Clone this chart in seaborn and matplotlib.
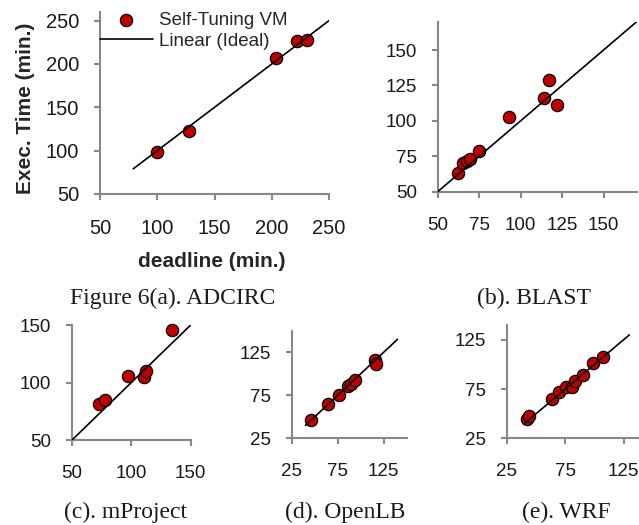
import matplotlib
matplotlib.use("Agg")
import matplotlib.pyplot as plt
import seaborn as sns
import pandas as pd

adcirc_deadline = [100, 128, 204, 222, 231]
adcirc_exec = [99, 123, 207, 227, 228]

blast_deadline = [62, 65, 67.5, 69.5, 75, 93, 114, 117, 122]
blast_exec = [63, 70, 72, 73, 79, 103, 116, 129, 111.5]

mproject_deadline = [73, 77.5, 97, 111, 112, 134]
mproject_exec = [81.5, 84.5, 106, 105, 110, 145.5]

openlb_deadline = [45.5, 64.7, 76, 86, 89, 94, 115.6, 116.7]
openlb_exec = [46, 64.3, 75, 85.5, 88.5, 92.3, 116, 111.5]

wrf_deadline = [42, 44, 64, 70, 76, 80.5, 83.3, 90, 99, 107.5]
wrf_exec = [44.6, 47.3, 65, 72.5, 77.5, 76.7, 83.3, 89, 101, 107.7]

# ideal line (y = x) ranges
ideal_a = [79, 250]
ideal_b = [50, 170]
ideal_c = [50, 150]
ideal_d = [40, 140]
ideal_e = [40, 130]

sns.set_style("ticks")
plt.rcParams['font.family'] = ['Liberation Sans', 'DejaVu Sans']

fig = plt.figure(figsize=(6.39, 5.25), dpi=100)

spine_col = '#888888'
red = '#C00000'

panels = [
    # rect, x, y, ideal, xlim, ylim, xticks, yticks, fontsize
    ([0.1565, 0.6305, 0.3584, 0.3467], adcirc_deadline, adcirc_exec, ideal_a,
     (50, 250), (50, 260), [50, 100, 150, 200, 250], [50, 100, 150, 200, 250], 14.5),
    ([0.685, 0.6349, 0.3114, 0.3238], blast_deadline, blast_exec, ideal_b,
     (50, 170), (50, 170), [50, 75, 100, 125, 150], [50, 75, 100, 125, 150], 13.5),
    ([0.1127, 0.1619, 0.1857, 0.2190], mproject_deadline, mproject_exec, ideal_c,
     (50, 150), (50, 150), [50, 100, 150], [50, 100, 150], 13.5),
    ([0.4565, 0.1651, 0.18, 0.205], openlb_deadline, openlb_exec, ideal_d,
     (25, 150), (25, 150), [25, 75, 125], [25, 75, 125], 13.5),
    ([0.7934, 0.1651, 0.2097, 0.2158], wrf_deadline, wrf_exec, ideal_e,
     (25, 140), (25, 140), [25, 75, 125], [25, 75, 125], 13.5),
]

axes = []
for rect, xs, ys, ideal, xlim, ylim, xt, yt, fs in panels:
    ax = fig.add_axes(rect)
    df = pd.DataFrame({'deadline': xs, 'exec': ys})
    sns.scatterplot(data=df, x='deadline', y='exec', ax=ax, s=78, color=red,
                    edgecolor='black', linewidth=0.9, zorder=2, clip_on=False,
                    label='Self-Tuning VM')
    line_df = pd.DataFrame({'x': ideal, 'y': ideal})
    sns.lineplot(data=line_df, x='x', y='y', ax=ax, color='black', lw=1.2,
                 zorder=3, label='Linear (Ideal)')
    ax.set_xlim(*xlim)
    ax.set_ylim(*ylim)
    ax.set_xticks(xt)
    ax.set_yticks(yt)
    ax.set_xlabel('')
    ax.set_ylabel('')
    for side in ['top', 'right']:
        ax.spines[side].set_visible(False)
    for side in ['left', 'bottom']:
        ax.spines[side].set_color(spine_col)
        ax.spines[side].set_linewidth(1.5)
    ax.tick_params(axis='both', direction='out', length=4, width=1.5,
                   color=spine_col, labelsize=fs, labelcolor='#1a1a1a')
    ax.tick_params(axis='y', pad=11)
    ax.tick_params(axis='x', pad=14)
    ax.get_legend().remove()
    axes.append(ax)

# legend and axis titles only on the first panel
ax = axes[0]
handles, labels = ax.get_legend_handles_labels()
ax.legend(handles, labels, loc='upper left', bbox_to_anchor=(0, 1.0),
          borderaxespad=0, borderpad=0, frameon=False, handlelength=2.8,
          handletextpad=0.35, labelspacing=0.2, fontsize=13.5)
ax.set_ylabel('Exec. Time (min.)', fontsize=15, fontweight='bold')
ax.set_xlabel('deadline (min.)', fontsize=15, fontweight='bold')
ax.yaxis.set_label_coords(-0.285, 0.47)
ax.xaxis.set_label_coords(0.487, -0.319)
ax.xaxis.label.set_va('top')

captions = [
    ('Figure 6(a). ADCIRC', 173, 298),
    ('(b). BLAST', 534, 298),
    ('(c). mProject', 126, 512),
    ('(d). OpenLB', 345, 512),
    ('(e). WRF', 566, 512),
]
for text, px, py in captions:
    fig.text(px / 639, 1 - py / 525, text, ha='center', va='center',
             fontsize=17, family=['Liberation Serif', 'DejaVu Serif'],
             color='#1a1a1a')

fig.savefig('out.png', dpi=100)
